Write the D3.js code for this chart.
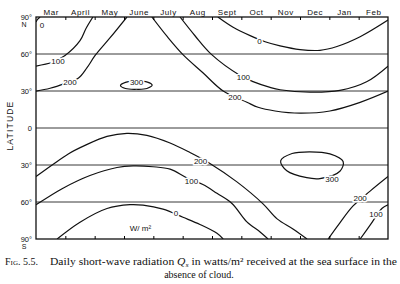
<!DOCTYPE html>
<html>
<head>
<meta charset="utf-8">
<script src="https://cdn.jsdelivr.net/npm/d3@7"></script>
<style>
  html, body { margin: 0; padding: 0; background: #fff; }
  svg { display: block; }
</style>
</head>
<body>
<div id="vis"></div>
<script>
// months run from the start of March (0) to the end of February (12)
const months = ["Mar", "April", "May", "June", "July", "Aug", "Sept", "Oct", "Nov", "Dec", "Jan", "Feb"];
const latTicks = [90, 60, 30, 0, -30, -60, -90];
const latTickLabels = ["90°", "60°", "30°", "0", "30°", "60°", "90°"];
const gridLats = [60, 30, 0, -30, -60];

// contour lines, [month position, latitude] (south negative), W/m2
const north0a = [[0, 86], [0.06, 88.3], [0.14, 90]];
const north0b = [[6.2, 90], [6.72, 81.7], [7.3, 74.9], [7.81, 69.9], [8.32, 66.6], [9.0, 63.6], [9.68, 63.0], [10.26, 66.1], [11.05, 74.0], [12, 87.5]];
const north100a = [[0, 50.2], [0.55, 53.3], [0.99, 58.8], [1.5, 70.8], [1.7, 80.5], [1.94, 90]];
const north100b = [[4.91, 90], [5.42, 74.8], [5.99, 59.5], [6.96, 42.6], [7.4, 37.6], [7.98, 32.9], [8.32, 31.0], [9.34, 29.1], [10.36, 30.5], [11.27, 37.5], [12, 50.2]];
const north200a = [[0, 29.9], [0.48, 32.2], [1.0, 36.2], [1.45, 40.5], [1.74, 48.9], [2.01, 58.6], [2.52, 73.0], [3.1, 90]];
const north200b = [[3.95, 90], [4.47, 74.2], [5.01, 59.5], [5.69, 44.8], [6.38, 30.0], [7.19, 20.9], [7.57, 16.8], [8.15, 13.8], [9.0, 12.0], [10.02, 13.8], [11.05, 20.8], [12, 29.9]];
const north300 = [[2.88, 34.5], [3.05, 37.0], [3.42, 38.0], [3.8, 37.2], [3.96, 34.8], [3.78, 32.0], [3.42, 31.4], [3.05, 32.0]];

const south0 = [[0.72, -90], [1.5, -76.4], [2.42, -65.3], [3.2, -62.2], [3.65, -62.6], [4.33, -65.8], [5.01, -72.4], [5.59, -78.2], [6.17, -85.4], [6.38, -90]];
const south100a = [[0, -62.3], [0.92, -48.8], [1.84, -38.5], [2.76, -32.0], [3.31, -30.7], [3.99, -31.4], [4.57, -33.4], [5.15, -40.5], [5.69, -45.8], [6.17, -53.0], [6.68, -61.2], [7.19, -76.1], [7.64, -84.3], [7.91, -90]];
const south100b = [[11.05, -90], [11.39, -78.8], [11.8, -65.1], [12, -62.3]];
const south200a = [[0, -39.4], [0.55, -30], [1.1, -21], [1.67, -14.1], [2.42, -6.8], [3.1, -4.3], [3.78, -6.0], [4.57, -12.2], [5.25, -19.9], [5.93, -28.7], [6.85, -43.7], [7.74, -61.5], [8.22, -73.7], [8.76, -81.9], [9.24, -90]];
const south200b = [[9.96, -90], [10.36, -76.9], [10.81, -63.2], [11.39, -51.2], [12, -39.4]];
const south300 = [[8.34, -26.6], [8.73, -20.7], [9.34, -19.3], [10.02, -21.0], [10.47, -27.1], [10.36, -35.1], [9.68, -41.0], [9.23, -40.3], [8.55, -34.7]];

const openLines = [north0a, north0b, north100a, north100b, north200a, north200b, south0, south100a, south100b, south200a, south200b];
const closedLines = [north300, south300];

// [text, month position, latitude]
const contourLabels = [
  ["0", 0.2, 83.3], ["100", 0.75, 54], ["200", 1.16, 36.9], ["300", 3.43, 37.4],
  ["200", 6.78, 24.7], ["100", 7.07, 40.8], ["0", 7.62, 70.6],
  ["200", 5.61, -26.8], ["100", 5.3, -43.3], ["0", 4.77, -69.1],
  ["300", 10.09, -41.2], ["200", 11.05, -56.8], ["100", 11.59, -69.9]
];
const unitLabel = ["W/ m²", 3.56, -81];

function createVis() {
  const width = 400;
  const height = 284;

  const x = d3.scaleLinear().domain([0, 12]).range([36, 388]);
  const y = d3.scaleLinear().domain([90, -90]).range([17, 239]);

  const svg = d3.select("#vis")
    .append("svg")
    .attr("width", width)
    .attr("height", height)
    .attr("viewBox", [0, 0, width, height]);

  svg.append("rect").attr("width", width).attr("height", height).attr("fill", "#fff");

  svg.append("clipPath").attr("id", "plot")
    .append("rect")
    .attr("x", x(0)).attr("y", y(90))
    .attr("width", x(12) - x(0)).attr("height", y(-90) - y(90));

  // latitude grid lines
  svg.append("g")
    .selectAll("line")
    .data(gridLats)
    .join("line")
    .attr("x1", x(0)).attr("x2", x(12))
    .attr("y1", d => y(d)).attr("y2", d => y(d))
    .attr("stroke", "#222")
    .attr("stroke-width", 0.9);

  const line = d3.line()
    .x(d => x(d[0]))
    .y(d => y(d[1]))
    .curve(d3.curveCatmullRom.alpha(0.5));

  const loop = d3.line()
    .x(d => x(d[0]))
    .y(d => y(d[1]))
    .curve(d3.curveCatmullRomClosed.alpha(0.5));

  const contours = svg.append("g")
    .attr("clip-path", "url(#plot)")
    .attr("fill", "none")
    .attr("stroke", "#111")
    .attr("stroke-width", 1.2);

  contours.selectAll(".open")
    .data(openLines)
    .join("path")
    .attr("class", "open")
    .attr("d", line);

  contours.selectAll(".closed")
    .data(closedLines)
    .join("path")
    .attr("class", "closed")
    .attr("d", loop);

  // frame
  svg.append("rect")
    .attr("x", x(0)).attr("y", y(90))
    .attr("width", x(12) - x(0)).attr("height", y(-90) - y(90))
    .attr("fill", "none")
    .attr("stroke", "#111")
    .attr("stroke-width", 1.3);

  // month ticks on top and bottom, pointing inwards
  svg.append("g")
    .attr("transform", `translate(0,${y(90)})`)
    .call(d3.axisTop(x).tickValues(d3.range(1, 12)).tickSize(-3).tickFormat(""))
    .call(g => g.select(".domain").remove());

  svg.append("g")
    .attr("transform", `translate(0,${y(-90)})`)
    .call(d3.axisBottom(x).tickValues(d3.range(1, 12)).tickSize(-3).tickFormat(""))
    .call(g => g.select(".domain").remove());

  svg.append("g")
    .attr("transform", `translate(0,${y(90)})`)
    .call(d3.axisTop(x).tickValues(d3.range(0.5, 12)).tickFormat((d, i) => months[i]).tickSize(0).tickPadding(2.5))
    .call(g => g.select(".domain").remove())
    .selectAll("text")
    .attr("font-family", "Liberation Sans, Arial, sans-serif")
    .attr("font-size", 8)
    .attr("letter-spacing", 0.6)
    .attr("fill", "#111");

  svg.append("g")
    .attr("transform", `translate(${x(0)},0)`)
    .call(d3.axisLeft(y).tickValues(latTicks).tickFormat((d, i) => latTickLabels[i]).tickSize(0).tickPadding(4))
    .call(g => g.select(".domain").remove())
    .selectAll("text")
    .attr("font-family", "Liberation Sans, Arial, sans-serif")
    .attr("font-size", 7.5)
    .attr("fill", "#111");

  svg.append("g")
    .attr("font-family", "Liberation Sans, Arial, sans-serif")
    .attr("font-size", 7)
    .attr("fill", "#111")
    .attr("text-anchor", "middle")
    .selectAll("text")
    .data([["N", 90], ["S", -90]])
    .join("text")
    .attr("x", 24)
    .attr("y", d => y(d[1]) + 9.5)
    .text(d => d[0]);

  svg.append("text")
    .attr("transform", `translate(13,${y(2)}) rotate(-90)`)
    .attr("text-anchor", "middle")
    .attr("font-family", "Liberation Sans, Arial, sans-serif")
    .attr("font-size", 8.5)
    .attr("letter-spacing", 1.2)
    .attr("fill", "#111")
    .text("LATITUDE");

  // contour values, white halo makes the break in the line
  svg.append("g")
    .attr("font-family", "Liberation Sans, Arial, sans-serif")
    .attr("font-size", 8)
    .attr("text-anchor", "middle")
    .selectAll("text")
    .data(contourLabels)
    .join("text")
    .attr("x", d => x(d[1]))
    .attr("y", d => y(d[2]))
    .attr("dy", "0.35em")
    .attr("fill", "#111")
    .attr("stroke", "#fff")
    .attr("stroke-width", 3)
    .attr("paint-order", "stroke")
    .text(d => d[0]);

  svg.append("text")
    .attr("x", x(unitLabel[1]))
    .attr("y", y(unitLabel[2]))
    .attr("dy", "0.35em")
    .attr("text-anchor", "middle")
    .attr("font-family", "Liberation Sans, Arial, sans-serif")
    .attr("font-size", 8)
    .attr("fill", "#111")
    .text(unitLabel[0]);

  // caption
  const cap = svg.append("g")
    .attr("font-family", "Liberation Serif, Times New Roman, serif")
    .attr("font-size", 10)
    .attr("fill", "#111");

  cap.append("text")
    .attr("x", 5).attr("y", 265)
    .attr("font-variant", "small-caps")
    .text("Fig. 5.5.");

  const line1 = cap.append("text")
    .attr("x", 50).attr("y", 265)
    .attr("textLength", 347)
    .attr("lengthAdjust", "spacingAndGlyphs");
  line1.append("tspan").text("Daily short-wave radiation ");
  line1.append("tspan").attr("font-style", "italic").text("Q");
  line1.append("tspan").attr("font-style", "italic").attr("font-size", 7).attr("dy", 2).text("s");
  line1.append("tspan").attr("dy", -2).text(" in watts/m² received at the sea surface in the");

  cap.append("text")
    .attr("x", 199).attr("y", 278)
    .attr("text-anchor", "middle")
    .text("absence of cloud.");
}

window.addEventListener("load", createVis);
</script>
</body>
</html>
